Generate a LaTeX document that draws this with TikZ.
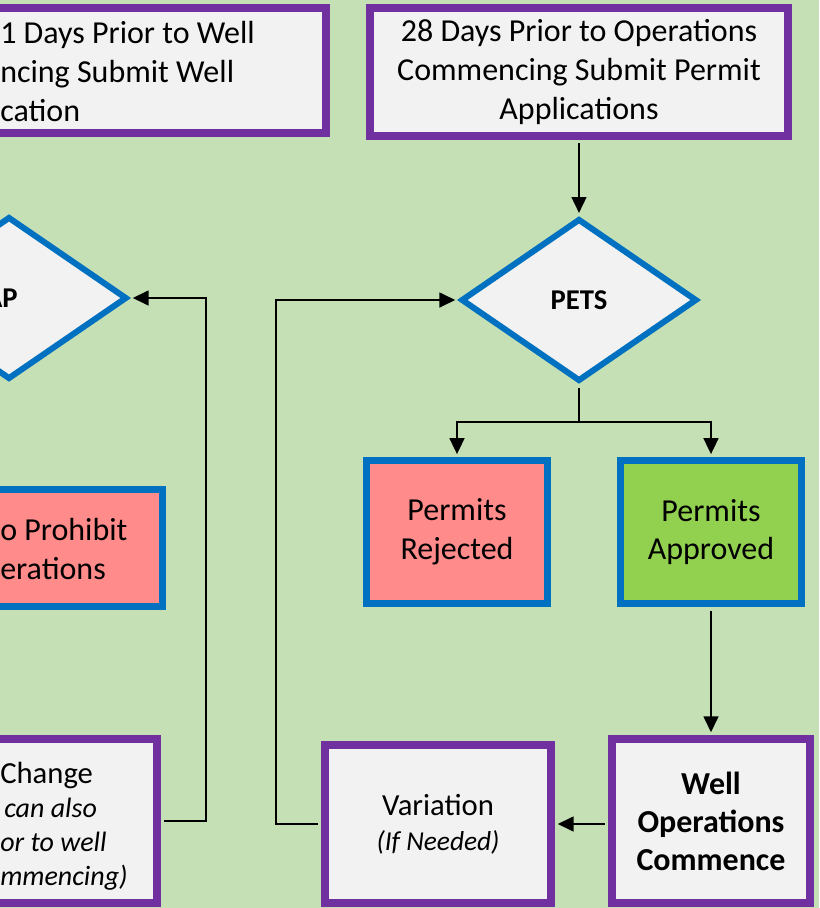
\documentclass[tikz,border=0pt]{standalone}
\usepackage{fontspec}
\setmainfont{Carlito}
\usetikzlibrary{shapes.geometric,arrows.meta}
\definecolor{bggreen}{HTML}{C5E0B4}
\definecolor{boxgray}{HTML}{F2F2F2}
\definecolor{purp}{HTML}{7030A0}
\definecolor{blu}{HTML}{0070C0}
\definecolor{redfill}{HTML}{FF8B8B}
\definecolor{grnfill}{HTML}{92D050}
\tikzset{
  pbox/.style={draw=purp, line width=6pt, fill=boxgray, inner sep=0pt, align=center},
  bbox/.style={draw=blu, line width=5.5pt, inner sep=0pt, align=center},
  dec/.style={draw=blu, line width=4.5pt, fill=boxgray, diamond, inner sep=0pt,
    minimum width=177pt, minimum height=122pt, font=\fontsize{21.5}{25}\selectfont\bfseries},
  conn/.style={line width=1.9pt, -{Triangle[length=12pt,width=11pt]}, shorten >=2pt, shorten <=2.5pt},
  txt/.style={inner sep=0pt, align=left, anchor=west},
  big/.style={font=\fontsize{24}{29}\selectfont}
}
\begin{document}
\begin{tikzpicture}[x=0.75pt, y=-0.75pt]
  \useasboundingbox (0,0) rectangle (819,908);
  \clip (0,0) rectangle (819,908);
  \fill[bggreen] (0,0) rectangle (819,908);
  % top row
  \node[pbox, minimum width=314pt, minimum height=94pt] (notif) at (116.5,70.5) {};
  \node[txt, big] (notift) at (0,71.5) {1 Days Prior to Well\\ncing Submit Well\\cation};
  \node[pbox, big, minimum width=314pt, minimum height=96pt] (permit) at (579,72) {28 Days Prior to Operations\\Commencing Submit Permit\\Applications};
  % decisions
  \node[dec] (wap) at (9,298) {};
  \node[inner sep=0pt, anchor=east, font=\fontsize{21.5}{25}\selectfont\bfseries] (wapt) at (18,298) {AP};
  \node[dec] (pets) at (579,300) {PETS};
  % outcomes
  \node[bbox, fill=redfill, minimum width=194pt, minimum height=87.75pt] (proh) at (33,548) {};
  \node[txt, big] (proht) at (0,549) {o Prohibit\\erations};
  \node[bbox, fill=redfill, big, minimum width=135.75pt, minimum height=107.25pt] (rej) at (457,532) {Permits\\Rejected};
  \node[bbox, fill=grnfill, big, minimum width=135.75pt, minimum height=107.25pt] (app) at (711,532) {Permits\\Approved};
  % bottom row
  \node[pbox, minimum width=227pt, minimum height=123pt] (chg) at (5.5,821) {};
  \node[txt, font=\fontsize{21}{25.5}\selectfont] (chgt) at (0,826) {{\fontsize{23}{25.5}\selectfont Change}\\\hspace{3pt}\textit{can also}\\\textit{or to well}\\\textit{mmencing)}};
  \node[pbox, font=\fontsize{23}{26}\selectfont, minimum width=169.5pt, minimum height=118.5pt] (var) at (438,824) {Variation\\{\fontsize{20.5}{26}\selectfont\itshape (If Needed)}};
  \node[pbox, font=\fontsize{24}{28.5}\selectfont\bfseries, minimum width=148.5pt, minimum height=123pt] (woc) at (711,821) {Well\\Operations\\Commence};
  % connectors
  \coordinate (split) at (579,422);
  \coordinate (vloop) at (276,300);
  \coordinate (cloop) at (206,298);
  \draw[conn] (permit.south) -- (pets.north);
  \draw[conn] (pets.south) -- (split) -| (rej.north);
  \draw[conn, shorten <=0pt] (split) -| (app.north);
  \draw[conn] (app.south) -- (woc.north);
  \draw[conn] (woc.west |- var.east) -- (var.east);
  \draw[conn] (var.west) -| (vloop) -- (pets.west);
  \draw[conn] (chg.east) -| (cloop) -- (wap.east);
\end{tikzpicture}
\end{document}
